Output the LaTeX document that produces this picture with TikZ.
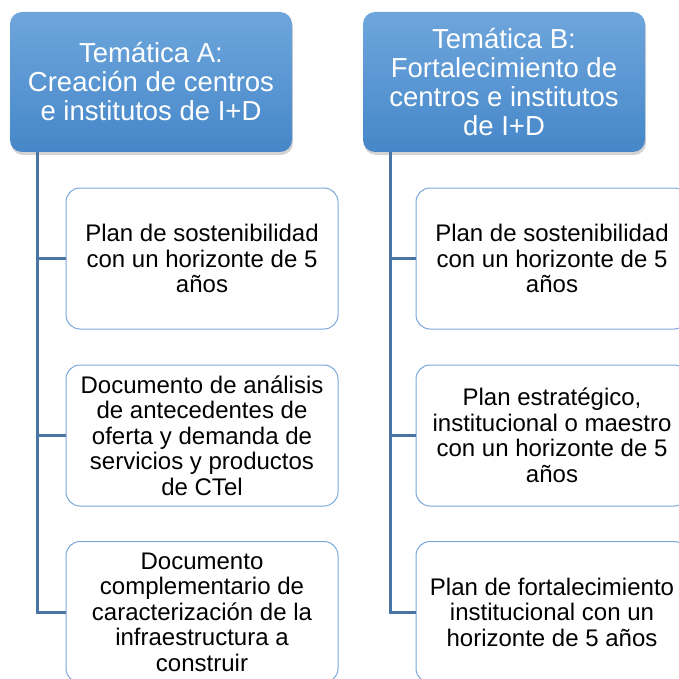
\documentclass[tikz,border=0pt]{standalone}
\usepackage{fontspec}
\setmainfont{Liberation Sans}
\usetikzlibrary{shapes,positioning,calc,shadows}
\definecolor{headtop}{RGB}{110,166,220}
\definecolor{headbot}{RGB}{70,135,201}
\definecolor{boxline}{RGB}{122,168,218}
\definecolor{trunkblue}{RGB}{72,116,166}
\tikzset{
    % Define standard node styles
    topicbox/.style={
        rectangle, draw=none, top color=headtop, bottom color=headbot,
        minimum width=282pt, minimum height=140pt, align=center,
        rounded corners=12pt, text=white,
        font=\fontsize{27.5}{29}\selectfont,
        drop shadow={opacity=0.35, shadow xshift=1pt, shadow yshift=-3pt}
    },
    itembox/.style={
        rectangle, draw=boxline, line width=1pt, fill=white,
        minimum width=272pt, minimum height=141pt, align=center,
        rounded corners=14pt, text=black,
        font=\fontsize{24}{25.5}\selectfont
    },
    trunk/.style={
        draw=trunkblue, line width=3pt
    }
}
\begin{document}
\begin{tikzpicture}[x=1pt, y=1pt]
\useasboundingbox (0,0) rectangle (678,-679);

% column A
\node[topicbox] (headA) at (151,-82) {Temática A:\\Creación de centros\\e institutos de I+D};
\node[itembox] (a1) at (202,-258.5) {Plan de sostenibilidad\\con un horizonte de 5\\años};
\node[itembox] (a2) at (202,-435.5) {Documento de análisis\\de antecedentes de\\oferta y demanda de\\servicios y productos\\de CTel};
\node[itembox] (a3) at (202,-612) {Documento\\complementario de\\caracterización de la\\infraestructura a\\construir};

% column B
\node[topicbox] (headB) at (504,-82) {Temática B:\\Fortalecimiento de\\centros e institutos\\de I+D};
\node[itembox] (b1) at (552,-258.5) {Plan de sostenibilidad\\con un horizonte de 5\\años};
\node[itembox] (b2) at (552,-435.5) {Plan estratégico,\\institucional o maestro\\con un horizonte de 5\\años};
\node[itembox] (b3) at (552,-612) {Plan de fortalecimiento\\institucional con un\\horizonte de 5 años};

% connectors
\coordinate (trunkA) at ([xshift=28pt]headA.south west);
\coordinate (trunkB) at ([xshift=28pt]headB.south west);
\draw[trunk] (trunkA) |- (a3.west);
\draw[trunk] (trunkA |- a1.west) -- (a1.west);
\draw[trunk] (trunkA |- a2.west) -- (a2.west);
\draw[trunk] (trunkB) |- (b3.west);
\draw[trunk] (trunkB |- b1.west) -- (b1.west);
\draw[trunk] (trunkB |- b2.west) -- (b2.west);

\end{tikzpicture}
\end{document}
